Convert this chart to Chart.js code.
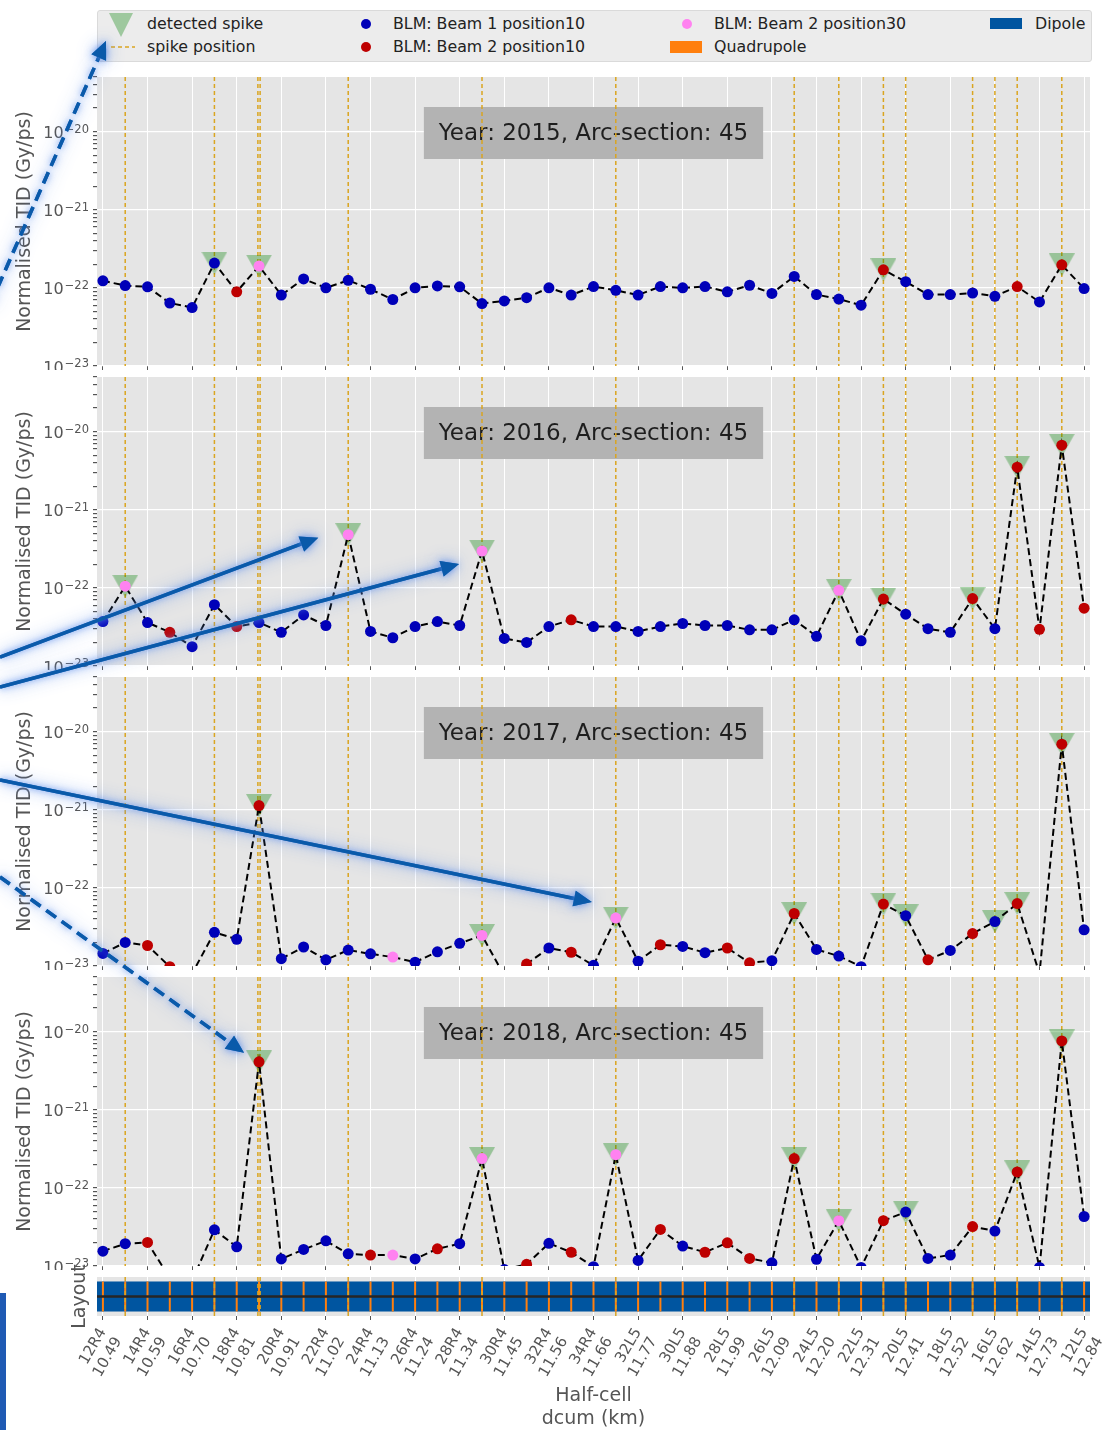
<!DOCTYPE html>
<html>
<head>
<meta charset="utf-8">
<script src="https://cdn.jsdelivr.net/npm/chart.js@4/dist/chart.umd.min.js"></script>
<style>
  body { margin: 0; background: #fff; font-family: 'DejaVu Sans', sans-serif; }
  #page { position: relative; width: 1107px; height: 1430px; overflow: hidden; }
  #page canvas { position: absolute; left: 0; }
  #legend { position: absolute; left: 97px; top: 10px; width: 993px; height: 50px;
            background: #ECECEC; border: 1px solid #DADADA; border-radius: 3px; }
  #legend > * { position: absolute; }
  #legend span { font-size: 15.8px; line-height: 18px; color: #222; white-space: nowrap; }
  .dot { width: 10px; height: 10px; border-radius: 50%; }
  #edgebar { position: absolute; left: 0; top: 1293px; width: 6px; height: 137px; background: #1F5AB4; }
</style>
</head>
<body>
<div id="page">
  <div id="legend">
    <svg id="legTri" style="left:11px;top:2px" width="24" height="24"><polygon points="0,0 24,0 12,24" fill="rgba(0,128,0,0.33)"/></svg>
    <span style="left:49px;top:4px">detected spike</span>
    <svg style="left:13px;top:33px" width="24" height="6"><line x1="0" y1="3" x2="24" y2="3" stroke="#DAA520" stroke-width="1.5" stroke-dasharray="4,3"/></svg>
    <span style="left:49px;top:27px">spike position</span>
    <div class="dot" style="left:263px;top:8px;background:#0000B8"></div>
    <span style="left:295px;top:4px">BLM: Beam 1 position10</span>
    <div class="dot" style="left:263px;top:31px;background:#BE0000"></div>
    <span style="left:295px;top:27px">BLM: Beam 2 position10</span>
    <div class="dot" style="left:584px;top:8px;background:#FF82F0"></div>
    <span style="left:616px;top:4px">BLM: Beam 2 position30</span>
    <div style="left:572px;top:30px;width:32px;height:12px;background:#FF7F0E"></div>
    <span style="left:616px;top:27px">Quadrupole</span>
    <div style="left:892px;top:7px;width:32px;height:11px;background:#0055A0"></div>
    <span style="left:937px;top:4px">Dipole</span>
  </div>
  <div id="edgebar"></div>
</div>
<script>
// half-cells on the x axis (one label every second point)
const halfCells = ['12R4', '14R4', '16R4', '18R4', '20R4', '22R4', '24R4', '26R4', '28R4', '30R4', '32R4', '34R4',
  '32L5', '30L5', '28L5', '26L5', '24L5', '22L5', '20L5', '18L5', '16L5', '14L5', '12L5'];
const dcumKm = ['10.49', '10.59', '10.70', '10.81', '10.91', '11.02', '11.13', '11.24', '11.34', '11.45', '11.56', '11.66',
  '11.77', '11.88', '11.99', '12.09', '12.20', '12.31', '12.41', '12.52', '12.62', '12.73', '12.84'];
const tickIdx = [0, 2, 4, 6, 8, 10, 12, 14, 16, 18, 20, 22, 24, 26, 28, 30, 32, 34, 36, 38, 40, 42, 44];
const quadrupoles = [0, 1, 2, 3, 4, 5, 6, 7, 8, 9, 10, 11, 12, 13, 14, 15, 16, 17, 18, 19, 20, 21, 22,
  23, 24, 25, 26, 27, 28, 29, 30, 31, 32, 33, 34, 35, 36, 37, 38, 39, 40, 41, 42, 43, 44];

// spike positions (dashed gold lines, shared by all years)
const spikeLines = [1, 5, 6.95, 7.05, 11, 17, 23, 31, 33, 35, 36, 39, 40, 41, 43];

// normalised TID per BLM (Gy/ps)
const tid2015 = [
  1.23e-22, 1.07e-22, 1.03e-22, 6.4e-23, 5.6e-23,
  2.08e-22, 8.9e-23, 1.9e-22, 8.1e-23, 1.3e-22,
  1.0e-22, 1.25e-22, 9.6e-23, 7.1e-23, 1.0e-22,
  1.06e-22, 1.03e-22, 6.3e-23, 6.8e-23, 7.5e-23,
  1.0e-22, 8.1e-23, 1.04e-22, 9.3e-23, 8.1e-23,
  1.04e-22, 1.0e-22, 1.04e-22, 8.9e-23, 1.08e-22,
  8.5e-23, 1.4e-22, 8.2e-23, 7.2e-23, 6.0e-23,
  1.7e-22, 1.2e-22, 8.2e-23, 8.2e-23, 8.6e-23,
  7.8e-23, 1.04e-22, 6.6e-23, 1.97e-22, 9.8e-23];
const tid2016 = [
  3.7e-23, 1.05e-22, 3.6e-23, 2.7e-23, 1.77e-23,
  6.1e-23, 3.2e-23, 3.6e-23, 2.7e-23, 4.5e-23,
  3.3e-23, 4.8e-22, 2.77e-23, 2.3e-23, 3.2e-23,
  3.7e-23, 3.3e-23, 2.96e-22, 2.25e-23, 2.0e-23,
  3.2e-23, 3.9e-23, 3.2e-23, 3.2e-23, 2.77e-23,
  3.2e-23, 3.5e-23, 3.3e-23, 3.3e-23, 2.9e-23,
  2.9e-23, 3.9e-23, 2.4e-23, 9.3e-23, 2.1e-23,
  7.2e-23, 4.6e-23, 3.0e-23, 2.7e-23, 7.3e-23,
  3.0e-23, 3.5e-21, 2.95e-23, 6.7e-21, 5.5e-23];
const tid2017 = [
  1.45e-23, 2.0e-23, 1.83e-23, 9.8e-24, 8e-24,
  2.7e-23, 2.2e-23, 1.13e-21, 1.24e-23, 1.75e-23,
  1.2e-23, 1.6e-23, 1.43e-23, 1.3e-23, 1.12e-23,
  1.52e-23, 1.95e-23, 2.46e-23, 7.5e-24, 1.06e-23,
  1.7e-23, 1.5e-23, 1.02e-23, 4.1e-23, 1.15e-23,
  1.87e-23, 1.78e-23, 1.48e-23, 1.7e-23, 1.1e-23,
  1.17e-23, 4.7e-23, 1.63e-23, 1.34e-23, 9.8e-24,
  6.2e-23, 4.4e-23, 1.2e-23, 1.58e-23, 2.6e-23,
  3.7e-23, 6.3e-23, 8e-24, 6.9e-21, 2.9e-23];
const tid2018 = [
  1.55e-23, 1.93e-23, 2.0e-23, 7e-24, 6.5e-24,
  2.9e-23, 1.76e-23, 4.1e-21, 1.23e-23, 1.63e-23,
  2.1e-23, 1.43e-23, 1.38e-23, 1.38e-23, 1.23e-23,
  1.66e-23, 1.93e-23, 2.37e-22, 9e-24, 1.05e-23,
  1.95e-23, 1.5e-23, 9.8e-24, 2.66e-22, 1.18e-23,
  2.94e-23, 1.8e-23, 1.5e-23, 1.98e-23, 1.25e-23,
  1.1e-23, 2.37e-22, 1.22e-23, 3.8e-23, 9.6e-24,
  3.8e-23, 4.9e-23, 1.25e-23, 1.38e-23, 3.2e-23,
  2.8e-23, 1.6e-22, 9.6e-24, 7.6e-21, 4.3e-23];

// BLM type per point: b = Beam 1 position10, r = Beam 2 position10, p = Beam 2 position30
const blm2015 = 'bbbbb brpbb bbbbb bbbbb bbbbb bbbbb bbbbb rbbbb brbrb';
const blm2016 = 'bpbrb brbbb bpbbb bbpbb brbbb bbbbb bbbpb rbbbr brrrr';
const blm2017 = 'bbrrb bbrbb bbbpb bbpbr brbpb rbbrr brbbb rbrbr brbrb';
const blm2018 = 'bbrbb bbrbb bbrpb rbpbr brbpb rbrrr brbpb rbbbr brbrb';

// detected spikes (point indices)
const spikes2015 = [5, 7, 35, 43];
const spikes2016 = [1, 11, 17, 33, 35, 39, 41, 43];
const spikes2017 = [7, 17, 23, 31, 35, 36, 40, 41, 43];
const spikes2018 = [7, 17, 23, 31, 33, 36, 41, 43];

const years = [2015, 2016, 2017, 2018];
const tids = [tid2015, tid2016, tid2017, tid2018];
const blms = [blm2015, blm2016, blm2017, blm2018];
const spikes = [spikes2015, spikes2016, spikes2017, spikes2018];

const blmColors = { b: '#0000B8', r: '#BE0000', p: '#FF82F0' };
const FONT = "'DejaVu Sans', sans-serif";
Chart.defaults.font.family = FONT;
Chart.defaults.color = '#555';

const yMin = 1e-23, yMax = 5e-20;
const xMin = -0.265, xMax = 44.265;
const yTickValues = [];
for (let e = -23; e <= -20; e++) {
  for (let m = 1; m <= 9; m++) {
    const v = m * Math.pow(10, e);
    if (v <= yMax * 1.0001) yTickValues.push(v);
  }
}

function isDecade(v) {
  const l = Math.log10(v);
  return Math.abs(l - Math.round(l)) < 1e-6;
}

// spike marker: downward triangle centred on the point
const spikeMarker = document.createElement('canvas');
spikeMarker.width = 26; spikeMarker.height = 23;
const mctx = spikeMarker.getContext('2d');
mctx.fillStyle = 'rgba(0,128,0,0.33)';
mctx.beginPath(); mctx.moveTo(0, 0); mctx.lineTo(26, 0); mctx.lineTo(13, 23); mctx.closePath(); mctx.fill();

const panelBg = {
  id: 'panelBg',
  beforeDraw(chart) {
    const { ctx, chartArea: a } = chart;
    ctx.save();
    ctx.fillStyle = '#E5E5E5';
    ctx.fillRect(a.left, a.top, a.width, a.height);
    ctx.restore();
  }
};

// 10^n labels with a real superscript exponent
const decadeLabels = {
  id: 'decadeLabels',
  afterDraw(chart) {
    const { ctx, chartArea: a, scales: { y } } = chart;
    if (y.type !== 'logarithmic') return;
    ctx.save();
    ctx.fillStyle = '#555';
    ctx.textBaseline = 'alphabetic';
    ctx.textAlign = 'left';
    const right = a.left - 8;
    yTickValues.filter(isDecade).forEach(v => {
      const py = y.getPixelForValue(v);
      const exp = '\u2212' + Math.abs(Math.round(Math.log10(v)));
      ctx.font = '11.5px ' + FONT;
      const we = ctx.measureText(exp).width;
      ctx.font = '16px ' + FONT;
      const wb = ctx.measureText('10').width;
      ctx.fillText('10', right - we - wb - 1, py + 6.5);
      ctx.font = '11.5px ' + FONT;
      ctx.fillText(exp, right - we, py + 1);
    });
    ctx.restore();
  }
};

const decor = {
  id: 'decor',
  beforeDatasetsDraw(chart, args, opts) {
    const { ctx, chartArea: a, scales: { x, y } } = chart;
    ctx.save();
    if (opts.label) {
      ctx.font = '23px ' + FONT;
      const w = ctx.measureText(opts.label).width + 30;
      const cx = (a.left + a.right) / 2, cy = a.top + 56;
      ctx.fillStyle = '#B3B3B3';
      ctx.fillRect(cx - w / 2, cy - 26, w, 52);
      ctx.fillStyle = '#1E1E1E';
      ctx.textAlign = 'center'; ctx.textBaseline = 'middle';
      ctx.fillText(opts.label, cx, cy + 1);
    }
    if (opts.layout) {
      const top = y.getPixelForValue(0.77), bot = y.getPixelForValue(-0.77);
      ctx.fillStyle = '#0055A0';
      ctx.fillRect(a.left, top, a.width, bot - top);
      ctx.strokeStyle = '#FF7F0E'; ctx.lineWidth = 2;
      quadrupoles.forEach(q => {
        const px = x.getPixelForValue(q);
        ctx.beginPath(); ctx.moveTo(px, top); ctx.lineTo(px, bot); ctx.stroke();
      });
    }
    ctx.strokeStyle = '#DAA520'; ctx.lineWidth = 1.5; ctx.setLineDash([4, 3]);
    spikeLines.forEach(v => {
      const px = x.getPixelForValue(v);
      ctx.beginPath(); ctx.moveTo(px, a.top); ctx.lineTo(px, a.bottom); ctx.stroke();
    });
    ctx.setLineDash([]);
    if (opts.layout) {
      const py = y.getPixelForValue(0);
      ctx.strokeStyle = '#262626'; ctx.lineWidth = 2.5;
      ctx.beginPath(); ctx.moveTo(a.left, py); ctx.lineTo(a.right, py); ctx.stroke();
    }
    ctx.restore();
  }
};

function xScale(withLabels) {
  return {
    type: 'linear', min: xMin, max: xMax,
    afterBuildTicks: s => { s.ticks = tickIdx.map(v => ({ value: v })); },
    afterFit: s => { s.height = withLabels ? 114 : 4; s.paddingLeft = 0; s.paddingRight = 0; },
    ticks: withLabels ? {
      autoSkip: false, minRotation: 60, maxRotation: 60, padding: 5, color: '#555',
      font: { size: 15 },
      callback: v => [halfCells[Math.round(v / 2)], dcumKm[Math.round(v / 2)]]
    } : { display: false },
    grid: { color: '#FFFFFF', lineWidth: 1, tickColor: '#555', tickLength: 4 },
    border: { display: false },
    title: withLabels ? {
      display: true, text: ['Half-cell', 'dcum (km)'], color: '#555',
      font: { size: 19 }, padding: { top: 0, bottom: 0 }
    } : { display: false }
  };
}

const page = document.getElementById('page');
function addCanvas(top, height) {
  const c = document.createElement('canvas');
  c.width = 1107; c.height = height;
  c.style.top = top + 'px';
  page.appendChild(c);
  return c;
}

const charts = years.map((year, k) => {
  const values = tids[k];
  const types = blms[k].replace(/ /g, '').split('');
  const colors = types.map(t => blmColors[t]);
  const canvas = addCanvas(70 + 300 * k, 300);
  return new Chart(canvas, {
    type: 'line',
    data: {
      datasets: [
        {
          data: values.map((v, i) => ({ x: i, y: v })),
          borderColor: '#000', borderWidth: 2, borderDash: [7, 4], tension: 0,
          pointRadius: 5.5, pointHoverRadius: 5.5, pointBorderWidth: 0,
          pointBackgroundColor: colors, pointBorderColor: colors,
          clip: 0, order: 0
        },
        {
          data: spikes[k].map(i => ({ x: i, y: values[i] })),
          showLine: false, pointStyle: spikeMarker, pointRadius: 12, pointHoverRadius: 12,
          clip: 0, order: 1
        }
      ]
    },
    options: {
      responsive: false, animation: false, events: [],
      layout: { autoPadding: false, padding: { top: 7, right: 17, bottom: 0, left: 0 } },
      plugins: { legend: { display: false }, tooltip: { enabled: false },
        decor: { label: 'Year: ' + year + ', Arc-section: 45' } },
      scales: {
        x: xScale(false),
        y: {
          type: 'logarithmic', min: yMin, max: yMax,
          afterBuildTicks: s => { s.ticks = yTickValues.map(v => ({ value: v })); },
          afterFit: s => { s.width = 97; s.paddingTop = 0; s.paddingBottom = 0; },
          ticks: { display: false, autoSkip: false },
          grid: {
            color: c => (c.tick && isDecade(c.tick.value)) ? '#FFFFFF' : 'rgba(0,0,0,0)',
            lineWidth: 1.2, tickColor: '#555', tickLength: 4
          },
          border: { display: false },
          title: { display: true, text: 'Normalised TID (Gy/ps)', color: '#555',
            font: { size: 19 }, padding: { top: 14, bottom: 0 } }
        }
      }
    },
    plugins: [panelBg, decor, decadeLabels]
  });
});

// machine layout strip
const layoutCanvas = addCanvas(1250, 180);
new Chart(layoutCanvas, {
  type: 'line',
  data: { datasets: [] },
  options: {
    responsive: false, animation: false, events: [],
    layout: { autoPadding: false, padding: { top: 27, right: 17, bottom: 0, left: 0 } },
    plugins: { legend: { display: false }, tooltip: { enabled: false }, decor: { layout: true } },
    scales: {
      x: xScale(true),
      y: {
        type: 'linear', min: -1, max: 1,
        afterFit: s => { s.width = 97; s.paddingTop = 0; s.paddingBottom = 0; },
        ticks: { display: false }, grid: { display: false }, border: { display: false },
        title: { display: true, text: 'Layout', color: '#555', font: { size: 19 },
          padding: { top: 69, bottom: 0 } }
      }
    }
  },
  plugins: [panelBg, decor]
});

// slide annotation arrows, anchored to the spikes they point at
const overlay = addCanvas(0, 1430);
overlay.style.pointerEvents = 'none';
const octx = overlay.getContext('2d');

function pointAt(k, i, dx, dy) {
  const ch = charts[k];
  return [ch.scales.x.getPixelForValue(i) + dx,
          70 + 300 * k + ch.scales.y.getPixelForValue(tids[k][i]) + dy];
}

function drawArrow(ctx, from, to, dashed) {
  const [x0, y0] = from, [x1, y1] = to;
  const ang = Math.atan2(y1 - y0, x1 - x0);
  const head = 18, half = 8;
  const bx = x1 - head * Math.cos(ang), by = y1 - head * Math.sin(ang);
  for (let pass = 0; pass < 2; pass++) {
    ctx.save();
    ctx.shadowColor = 'rgba(90,140,235,0.85)';
    ctx.shadowBlur = pass === 0 ? 16 : 6;
    ctx.strokeStyle = '#0A5AAA'; ctx.fillStyle = '#0A5AAA'; ctx.lineWidth = 3.5;
    ctx.setLineDash(dashed ? [12, 7] : []);
    ctx.beginPath(); ctx.moveTo(x0, y0); ctx.lineTo(bx, by); ctx.stroke();
    ctx.setLineDash([]);
    ctx.beginPath(); ctx.moveTo(x1, y1);
    ctx.lineTo(bx + half * Math.sin(ang), by - half * Math.cos(ang));
    ctx.lineTo(bx - half * Math.sin(ang), by + half * Math.cos(ang));
    ctx.closePath(); ctx.fill();
    ctx.restore();
  }
}

const legTri = document.getElementById('legTri').getBoundingClientRect();
drawArrow(octx, [-10, 305], [legTri.left - 3, legTri.bottom + 4], true);
drawArrow(octx, [0, 657], pointAt(1, 11, -30, 3), false);
drawArrow(octx, [0, 687], pointAt(1, 17, -23, 13), false);
drawArrow(octx, [0, 780], pointAt(2, 23, -24, -16), false);
drawArrow(octx, [0, 877], pointAt(3, 7, -15, -9), true);
</script>
</body>
</html>
